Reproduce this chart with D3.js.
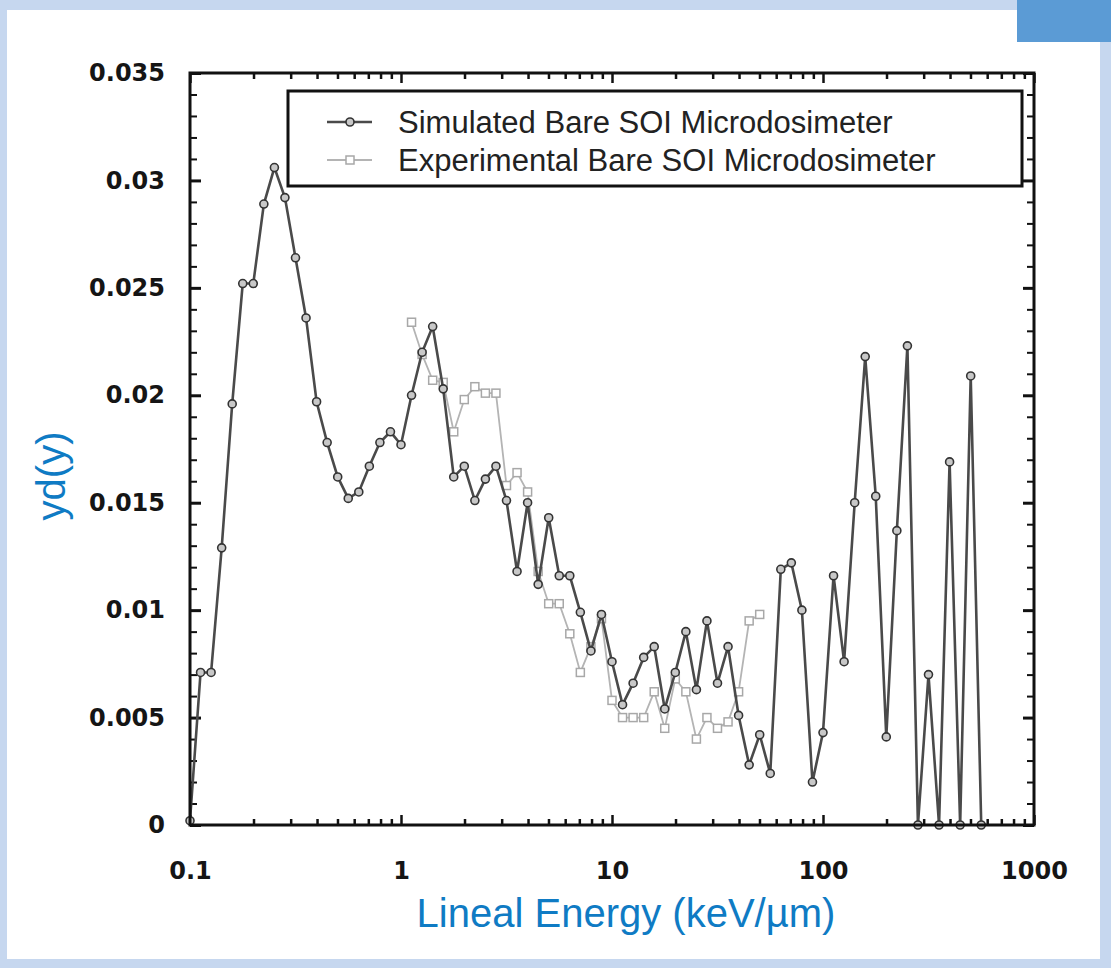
<!DOCTYPE html>
<html>
<head>
<meta charset="utf-8">
<script src="https://cdn.jsdelivr.net/npm/d3@7"></script>
<style>
  html, body { margin: 0; padding: 0; background: #c6d7ef; }
  svg { display: block; }
</style>
</head>
<body>
<svg id="chart" width="1111" height="968"></svg>
<script>
// lineal energy bins (keV/um)
let energy = [0.1, 0.1122, 0.1259, 0.1413, 0.1585, 0.1778, 0.1995, 0.2239, 0.2512, 0.2818,
    0.3162, 0.3548, 0.3981, 0.4467, 0.5012, 0.5623, 0.631, 0.7079, 0.7943, 0.8913,
    1.0, 1.122, 1.259, 1.413, 1.585, 1.778, 1.995, 2.239, 2.512, 2.818,
    3.162, 3.548, 3.981, 4.467, 5.012, 5.623, 6.31, 7.079, 7.943, 8.913,
    10.0, 11.22, 12.59, 14.13, 15.85, 17.78, 19.95, 22.39, 25.12, 28.18,
    31.62, 35.48, 39.81, 44.67, 50.12, 56.23, 63.1, 70.79, 79.43, 89.13,
    100, 112.2, 125.9, 141.3, 158.5, 177.8, 199.5, 223.9, 251.2, 281.8,
    316.2, 354.8, 398.1, 446.7, 501.2, 562.3];

let simulated = [0.0002, 0.0071, 0.0071, 0.0129, 0.0196, 0.0252, 0.0252, 0.0289, 0.0306, 0.0292,
    0.0264, 0.0236, 0.0197, 0.0178, 0.0162, 0.0152, 0.0155, 0.0167, 0.0178, 0.0183,
    0.0177, 0.0200, 0.0220, 0.0232, 0.0203, 0.0162, 0.0167, 0.0151, 0.0161, 0.0167,
    0.0151, 0.0118, 0.0150, 0.0112, 0.0143, 0.0116, 0.0116, 0.0099, 0.0081, 0.0098,
    0.0076, 0.0056, 0.0066, 0.0078, 0.0083, 0.0054, 0.0071, 0.0090, 0.0063, 0.0095,
    0.0066, 0.0083, 0.0051, 0.0028, 0.0042, 0.0024, 0.0119, 0.0122, 0.0100, 0.0020,
    0.0043, 0.0116, 0.0076, 0.0150, 0.0218, 0.0153, 0.0041, 0.0137, 0.0223, 0,
    0.0070, 0, 0.0169, 0, 0.0209, 0];

// experimental points cover energy[21] .. energy[54]
let expEnergy = [1.122, 1.259, 1.413, 1.585, 1.778, 1.995, 2.239, 2.512, 2.818,
    3.162, 3.548, 3.981, 4.467, 5.012, 5.623, 6.31, 7.079, 7.943, 8.913,
    10.0, 11.22, 12.59, 14.13, 15.85, 17.78, 19.95, 22.39, 25.12, 28.18,
    31.62, 35.48, 39.81, 44.67, 50.12];
let experimental = [0.0234, 0.0219, 0.0207, 0.0206, 0.0183, 0.0198, 0.0204, 0.0201, 0.0201,
    0.0158, 0.0164, 0.0155, 0.0118, 0.0103, 0.0103, 0.0089, 0.0071, 0.0083, 0.0096,
    0.0058, 0.0050, 0.0050, 0.0050, 0.0062, 0.0045, 0.0068, 0.0062, 0.0040, 0.0050,
    0.0045, 0.0048, 0.0062, 0.0095, 0.0098];

let xMajor = [0.1, 1, 10, 100, 1000];
let yMajor = [0, 0.005, 0.01, 0.015, 0.02, 0.025, 0.03, 0.035];
let seriesNames = ["Simulated Bare SOI Microdosimeter", "Experimental Bare SOI Microdosimeter"];

let margin = {top: 73, right: 77, bottom: 143, left: 190},
    width = 1111 - margin.left - margin.right,
    height = 968 - margin.top - margin.bottom;

let svg = d3.select("#chart");

// page frame
svg.append("rect").attr("x", 7).attr("y", 10).attr("width", 1093).attr("height", 949).attr("fill", "#fff");
svg.append("rect").attr("x", 1017).attr("y", 0).attr("width", 94).attr("height", 42).attr("fill", "#5b9bd5");

let g = svg.append("g").attr("transform", "translate(" + margin.left + "," + margin.top + ")");

let xScale = d3.scaleLog().domain([0.1, 1000]).range([0, width]);
let yScale = d3.scaleLinear().domain([0, 0.035]).range([height, 0]);

let xMinor = [];
xMajor.slice(0, -1).forEach(function (d) {
    for (let m = 2; m <= 9; m++) xMinor.push(d * m);
});
let yMinor = d3.range(0, 36).map(function (i) { return i / 1000; })
    .filter(function (d, i) { return i % 5 !== 0; });

let fmtY = function (d) { return d === 0 ? "0" : String(+d.toFixed(3)); };
let fmtX = function (d) { return String(d); };

function styleAxis(sel, w) {
    sel.select(".domain").remove();
    sel.selectAll("line").attr("stroke", "#111").attr("stroke-width", w);
    sel.selectAll("text")
        .attr("font-family", "DejaVu Sans, sans-serif")
        .attr("font-weight", "bold")
        .attr("font-size", 24)
        .attr("fill", "#151515");
}

// left / right
g.append("g").call(d3.axisLeft(yScale).tickValues(yMinor).tickSize(-7).tickFormat("")).call(styleAxis, 2);
g.append("g").call(d3.axisLeft(yScale).tickValues(yMajor).tickSize(-11).tickPadding(25).tickFormat(fmtY)).call(styleAxis, 3);
g.append("g").attr("transform", "translate(" + width + ",0)")
    .call(d3.axisRight(yScale).tickValues(yMinor).tickSize(-7).tickFormat("")).call(styleAxis, 2);
g.append("g").attr("transform", "translate(" + width + ",0)")
    .call(d3.axisRight(yScale).tickValues(yMajor).tickSize(-11).tickFormat("")).call(styleAxis, 3);

// bottom / top
g.append("g").attr("transform", "translate(0," + height + ")")
    .call(d3.axisBottom(xScale).tickValues(xMinor).tickSize(-6).tickFormat("")).call(styleAxis, 2.5);
g.append("g").attr("transform", "translate(0," + height + ")")
    .call(d3.axisBottom(xScale).tickValues(xMajor).tickSize(-10).tickPadding(37).tickFormat(fmtX)).call(styleAxis, 2.5);
g.append("g").call(d3.axisTop(xScale).tickValues(xMinor).tickSize(-6).tickFormat("")).call(styleAxis, 2.5);
g.append("g").call(d3.axisTop(xScale).tickValues(xMajor).tickSize(-10).tickFormat("")).call(styleAxis, 2.5);

let line = d3.line()
    .x(function (d) { return xScale(d[0]); })
    .y(function (d) { return yScale(d[1]); });

let simData = energy.map(function (e, i) { return [e, simulated[i]]; });
let expData = expEnergy.map(function (e, i) { return [e, experimental[i]]; });

// experimental (behind)
g.append("path").datum(expData)
    .attr("fill", "none").attr("stroke", "#b4b4b4").attr("stroke-width", 1.8)
    .attr("d", line);
g.selectAll(".exp").data(expData).enter().append("rect")
    .attr("class", "exp")
    .attr("x", function (d) { return xScale(d[0]) - 4; })
    .attr("y", function (d) { return yScale(d[1]) - 4; })
    .attr("width", 8).attr("height", 8)
    .attr("fill", "#fff").attr("stroke", "#a8a8a8").attr("stroke-width", 1.5);

// simulated
g.append("path").datum(simData)
    .attr("fill", "none").attr("stroke", "#4a4a4a").attr("stroke-width", 2.6)
    .attr("d", line);
g.selectAll(".sim").data(simData).enter().append("circle")
    .attr("class", "sim")
    .attr("cx", function (d) { return xScale(d[0]); })
    .attr("cy", function (d) { return yScale(d[1]); })
    .attr("r", 4)
    .attr("fill", "#c8c8c8").attr("stroke", "#333").attr("stroke-width", 1.6);

// plot frame
g.append("rect").attr("width", width).attr("height", height)
    .attr("fill", "none").attr("stroke", "#111").attr("stroke-width", 3);

// legend
let legend = g.append("g").attr("transform", "translate(" + (288 - margin.left) + "," + (91 - margin.top) + ")");
legend.append("rect").attr("width", 734).attr("height", 95)
    .attr("fill", "#fff").attr("stroke", "#111").attr("stroke-width", 3);
let legendItems = legend.selectAll(".leg").data(seriesNames).enter().append("g")
    .attr("class", "leg")
    .attr("transform", function (d, i) { return "translate(0," + (31 + i * 38) + ")"; });
legendItems.append("line")
    .attr("x1", 39).attr("x2", 84)
    .attr("stroke", function (d, i) { return i === 0 ? "#4a4a4a" : "#b4b4b4"; })
    .attr("stroke-width", function (d, i) { return i === 0 ? 2.6 : 1.8; });
legendItems.filter(function (d, i) { return i === 0; }).append("circle")
    .attr("cx", 62).attr("r", 4)
    .attr("fill", "#c8c8c8").attr("stroke", "#333").attr("stroke-width", 1.6);
legendItems.filter(function (d, i) { return i === 1; }).append("rect")
    .attr("x", 58).attr("y", -4).attr("width", 8).attr("height", 8)
    .attr("fill", "#fff").attr("stroke", "#a8a8a8").attr("stroke-width", 1.5);
legendItems.append("text")
    .attr("x", 110).attr("dy", "0.35em")
    .attr("font-family", "Liberation Sans, Arial, sans-serif")
    .attr("font-size", 31)
    .attr("fill", "#222")
    .text(function (d) { return d; });

// axis titles
svg.append("text")
    .attr("transform", "translate(65,476) rotate(-90)")
    .attr("text-anchor", "middle")
    .attr("font-family", "Liberation Sans, Arial, sans-serif")
    .attr("font-size", 40)
    .attr("fill", "#0f7bc4")
    .text("yd(y)");
svg.append("text")
    .attr("x", 626).attr("y", 927)
    .attr("text-anchor", "middle")
    .attr("font-family", "Liberation Sans, Arial, sans-serif")
    .attr("font-size", 40)
    .attr("fill", "#0f7bc4")
    .text("Lineal Energy (keV/\u00b5m)");
</script>
</body>
</html>
